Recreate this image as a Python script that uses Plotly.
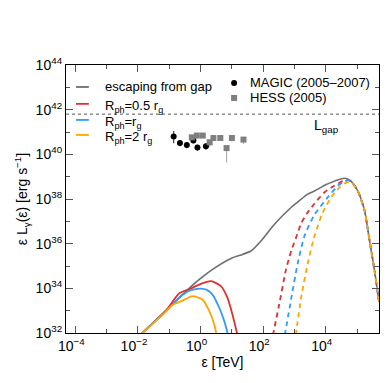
import numpy as np
import plotly.graph_objects as go

# escaping gamma-ray spectrum (log10 E [TeV], log10 eL [erg/s])
esc_logE = [-1.9, -1.11, -0.58, -0.04, 0.49, 1.02, 1.34, 1.61, 1.93, 2.36, 2.89, 3.10, 3.42, 3.64,
            4.01, 4.17, 4.40, 4.62, 4.81, 5.02, 5.24, 5.40, 5.56, 5.70]
esc_logL = [31.95, 33.0, 33.72, 34.4, 34.95, 35.37, 35.52, 35.67, 36.12, 36.87, 37.62, 37.86, 38.22, 38.36,
            38.65, 38.74, 38.86, 38.93, 38.79, 38.37, 37.47, 36.12, 34.77, 33.4]

# absorbed (solid) low-energy parts
r05_logE = [-1.9, -1.11, -0.68, -0.3, -0.04, 0.33, 0.65, 0.86, 1.02, 1.18]
r05_logL = [31.95, 33.0, 33.78, 34.0, 34.17, 34.32, 34.1, 33.57, 32.82, 31.9]
r1_logE = [-1.9, -1.11, -0.58, -0.31, 0.01, 0.2, 0.38, 0.6, 0.76, 0.88]
r1_logL = [31.95, 32.98, 33.7, 33.92, 33.99, 33.93, 33.72, 33.12, 32.52, 31.9]
r2_logE = [-1.9, -1.11, -0.9, -0.58, -0.26, 0.06, 0.28, 0.44, 0.51]
r2_logL = [31.95, 32.95, 33.25, 33.45, 33.65, 33.5, 32.98, 32.37, 31.9]

# reprocessed (dashed) high-energy parts
d05_logE = [2.31, 2.5, 2.73, 2.9, 3.05, 3.21, 3.4, 3.64, 3.96, 4.28, 4.54, 4.70, 4.81, 5.02, 5.24, 5.40, 5.56, 5.70]
d05_logL = [31.9, 33.2, 34.85, 35.7, 36.27, 36.9, 37.35, 37.8, 38.3, 38.6, 38.8, 38.87, 38.79, 38.37, 37.47, 36.12, 34.77, 33.4]
d1_logE = [2.69, 2.89, 3.10, 3.32, 3.64, 4.06, 4.38, 4.6, 4.72, 4.81, 5.02, 5.24, 5.40, 5.56, 5.70]
d1_logL = [31.9, 33.5, 35.1, 36.35, 37.3, 38.07, 38.59, 38.79, 38.84, 38.77, 38.37, 37.47, 36.12, 34.77, 33.4]
d2_logE = [3.04, 3.21, 3.42, 3.64, 3.90, 4.17, 4.44, 4.6, 4.74, 4.85, 5.02, 5.24, 5.40, 5.56, 5.70]
d2_logL = [31.9, 33.57, 35.1, 36.35, 37.39, 38.07, 38.52, 38.7, 38.76, 38.7, 38.37, 37.47, 36.12, 34.77, 33.4]

# observations (log10 E, log10 eL, err up, err down in dex)
magic_logE = [-0.86, -0.66, -0.44, -0.23, -0.10, 0.17]
magic_logL = [40.8, 40.51, 40.42, 40.62, 40.31, 40.36]
magic_up = [0.25, 0.12, 0.12, 0.1, 0.12, 0.12]
magic_dn = [0.3, 0.15, 0.15, 0.12, 0.15, 0.15]
hess_logE = [-0.28, -0.12, 0.07, 0.29, 0.41, 0.63, 0.83, 1.0, 1.37]
hess_logL = [40.76, 40.84, 40.84, 40.54, 40.73, 40.73, 40.28, 40.73, 40.66]
hess_up = [0.05, 0.05, 0.05, 0.06, 0.06, 0.06, 0.1, 0.06, 0.08]
hess_dn = [0.08, 0.08, 0.08, 0.2, 0.1, 0.12, 0.65, 0.15, 0.2]

L_gap_log = 41.8

major_y = [32, 34, 36, 38, 40, 42, 44]
major_x = [-4, -2, 0, 2, 4]

legend_names = ['escaping from gap', 'R<sub>ph</sub>=0.5 r<sub>g</sub>',
                'R<sub>ph</sub>=r<sub>g</sub>', 'R<sub>ph</sub>=2 r<sub>g</sub>']
obs_names = ['MAGIC (2005\u20132007)', 'HESS (2005)']


def p10(a):
    return 10 ** np.array(a, dtype=float)


def sup_label(n):
    return "10<sup>" + str(n).replace("-", "\u2212") + "</sup>"


GRAY = '#6e6e6e'
RED = '#e03030'
BLUE = '#2f9bff'
ORANGE = '#ffa500'
HESS_GRAY = '#7f7f7f'
DASH = '5px,4px'

fig = go.Figure()

fig.add_trace(go.Scatter(x=p10(esc_logE), y=p10(esc_logL), mode='lines', name=legend_names[0],
                         line=dict(color=GRAY, width=1.6, shape='spline', smoothing=0.6)))
for lx, ly, dx, dy, col, nm in [
    (r05_logE, r05_logL, d05_logE, d05_logL, RED, legend_names[1]),
    (r1_logE, r1_logL, d1_logE, d1_logL, BLUE, legend_names[2]),
    (r2_logE, r2_logL, d2_logE, d2_logL, ORANGE, legend_names[3]),
]:
    fig.add_trace(go.Scatter(x=p10(lx), y=p10(ly), mode='lines', name=nm,
                             line=dict(color=col, width=1.8, shape='spline', smoothing=0.6)))
    fig.add_trace(go.Scatter(x=p10(dx), y=p10(dy), mode='lines', name=nm,
                             line=dict(color=col, width=1.8, dash=DASH, shape='spline', smoothing=0.6)))

# observational points
mY = p10(magic_logL)
fig.add_trace(go.Scatter(
    x=p10(magic_logE), y=mY, mode='markers', name=obs_names[0],
    marker=dict(symbol='circle', size=6, color='black'),
    error_y=dict(type='data', symmetric=False, array=mY * (p10(magic_up) - 1),
                 arrayminus=mY * (1 - 10 ** (-np.array(magic_dn))), color='#444444', thickness=1.2, width=0)))
hY = p10(hess_logL)
fig.add_trace(go.Scatter(
    x=p10(hess_logE), y=hY, mode='markers', name=obs_names[1],
    marker=dict(symbol='square', size=6, color=HESS_GRAY),
    error_y=dict(type='data', symmetric=False, array=hY * (p10(hess_up) - 1),
                 arrayminus=hY * (1 - 10 ** (-np.array(hess_dn))), color='#b0b0b0', thickness=1.2, width=0)))

# L_gap level
fig.add_hline(y=10 ** L_gap_log, line=dict(color='#555555', width=1, dash='dot'))
fig.add_annotation(x=3.55, y=41.25, xref='x', yref='y', text='L<sub>gap</sub>', showarrow=False,
                   xanchor='left', font=dict(size=14, color='black'))

# hand-placed legends (tight rows like the original)
leg_rows = [0.918, 0.855, 0.795, 0.739]
for nm, col, yy in zip(legend_names, [GRAY, RED, BLUE, ORANGE], leg_rows):
    fig.add_shape(type='line', xref='paper', yref='paper', x0=0.032, x1=0.073, y0=yy, y1=yy,
                  line=dict(color=col, width=1.8))
    fig.add_annotation(x=0.118, y=yy - (0.0 if nm == legend_names[0] else 0.008),
                       xref='paper', yref='paper', text=nm,
                       showarrow=False, xanchor='left', yanchor='middle', font=dict(size=13, color='black'))

obs_rows = [0.933, 0.877]
mx, dxm, dym = 0.537, 0.0096, 0.0112
fig.add_shape(type='circle', xref='paper', yref='paper', x0=mx - dxm, x1=mx + dxm,
              y0=obs_rows[0] - dym, y1=obs_rows[0] + dym, fillcolor='black', line=dict(width=0))
fig.add_shape(type='rect', xref='paper', yref='paper', x0=mx - dxm, x1=mx + dxm,
              y0=obs_rows[1] - dym, y1=obs_rows[1] + dym, fillcolor=HESS_GRAY, line=dict(width=0))
for nm, yy in zip(obs_names, obs_rows):
    fig.add_annotation(x=0.581, y=yy, xref='paper', yref='paper', text=nm, showarrow=False,
                       xanchor='left', yanchor='middle', font=dict(size=13, color='black'))

axis_common = dict(showline=True, linecolor='black', linewidth=1.2, mirror='allticks',
                   ticks='inside', ticklen=7, tickwidth=1, tickcolor='#555555',
                   showgrid=False, zeroline=False,
                   tickfont=dict(size=14, color='black'))

fig.update_xaxes(type='log', range=[-4.3, 5.7],
                 tickvals=p10(major_x), ticktext=[sup_label(v) for v in major_x],
                 ticklabelshift=-4,
                 minor=dict(ticks='inside', ticklen=4, tickcolor='#555555',
                            tickvals=p10([v + 1 for v in major_x])),
                 title=dict(text='\u03b5 [TeV]', font=dict(size=14, color='black'), standoff=4),
                 **axis_common)
fig.update_yaxes(type='log', range=[32, 44],
                 tickvals=p10(major_y), ticktext=[sup_label(v) for v in major_y],
                 minor=dict(ticks='inside', ticklen=4, tickcolor='#555555',
                            tickvals=p10([v + 1 for v in major_y[:-1]])),
                 title=dict(text='\u03b5 L<sub>\u03b3</sub>(\u03b5) [erg s<sup>\u22121</sup>]',
                            font=dict(size=14, color='black'), standoff=4),
                 **axis_common)

fig.update_layout(
    width=390, height=383,
    margin=dict(l=58, r=19, t=57, b=58),
    paper_bgcolor='white', plot_bgcolor='white',
    font=dict(family='Liberation Sans, Arial, sans-serif', size=13, color='black'),
    showlegend=False,
)

fig.write_html("out.html")
